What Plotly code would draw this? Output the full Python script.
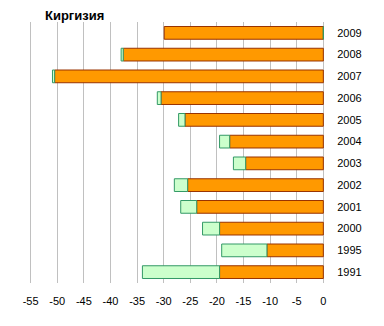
import plotly.graph_objects as go

years = ["2009", "2008", "2007", "2006", "2005", "2004", "2003", "2002", "2001", "2000", "1995", "1991"]
orange_vals = [-29.9, -37.6, -50.5, -30.5, -26.0, -17.6, -14.6, -25.5, -23.8, -19.5, -10.6, -19.5]
green_vals = [0, -0.4, -0.4, -0.7, -1.2, -1.9, -2.3, -2.5, -3.0, -3.2, -8.5, -14.5]
tick_vals = [-55, -50, -45, -40, -35, -30, -25, -20, -15, -10, -5, 0]
tick_text = ["-55", "-50", "-45", "-40", "-35", "-30", "-25", "-20", "-15", "-10", "-5", "0"]

fig = go.Figure()
fig.add_trace(go.Bar(
    y=years, x=orange_vals, orientation="h",
    marker=dict(color="#FF9900", line=dict(color="#993300", width=1)),
    showlegend=False,
))
fig.add_trace(go.Bar(
    y=years, x=green_vals, orientation="h",
    marker=dict(color="#CCFFCC", line=dict(color="#339966", width=1)),
    showlegend=False,
))

fig.update_layout(
    width=384, height=326,
    margin=dict(l=28, r=58, t=22, b=43),
    barmode="relative",
    bargap=0.415,
    plot_bgcolor="white", paper_bgcolor="white",
    font=dict(family="Liberation Sans, Arial, sans-serif", size=11, color="black"),
    title=dict(text="<b>Киргизия</b>", x=45/384, xanchor="left", y=1 - 15/326, yanchor="middle",
               font=dict(size=13, color="black")),
    xaxis=dict(range=[-55.5, 0.5], tickvals=tick_vals, ticktext=tick_text, showgrid=True,
               gridcolor="#C0C0C0", gridwidth=1,
               zeroline=False, showline=False, ticks="outside", ticklen=8, tickcolor="rgba(0,0,0,0)"),
    yaxis=dict(categoryorder="array", categoryarray=years, autorange="reversed", side="right",
               showgrid=False, zeroline=False, showline=False, ticks="outside", ticklen=8,
               tickcolor="rgba(0,0,0,0)"),
)

fig.write_html("out.html")
